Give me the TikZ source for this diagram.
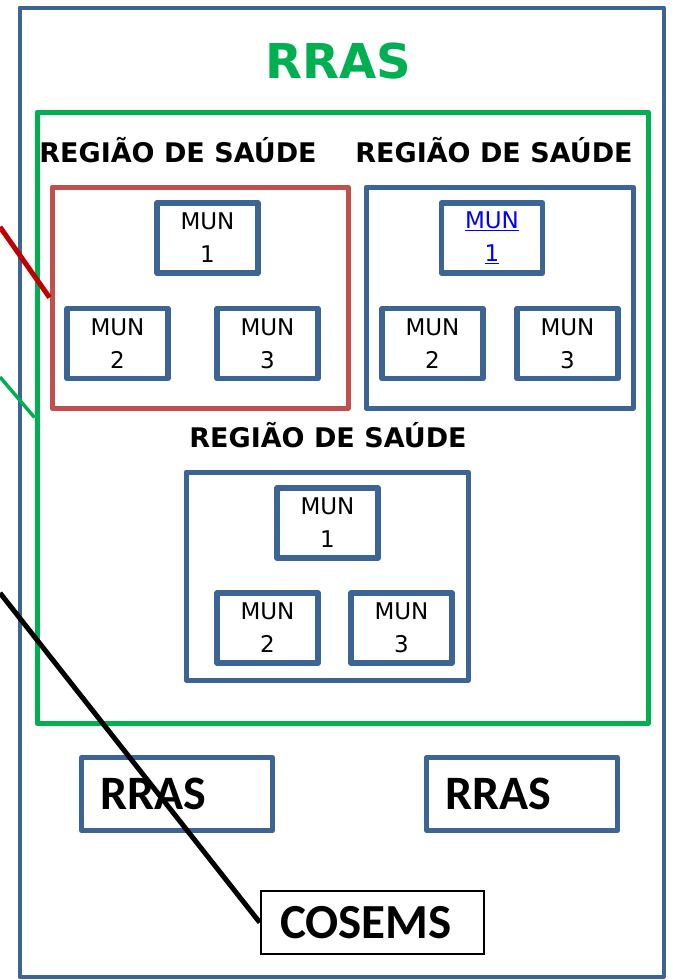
\documentclass[tikz,border=0pt]{standalone}
\usepackage{fontspec}
\setmainfont{DejaVu Sans}
\newfontfamily\calibrifont{Carlito}
\definecolor{rasblue}{HTML}{3C6494}
\definecolor{rasgreen}{HTML}{00B050}
\definecolor{regred}{HTML}{C0504D}
\definecolor{linered}{HTML}{C00000}

\tikzset{
  mun/.style={draw=rasblue, line width=5.5pt, line join=round, fill=white, minimum width=101pt,
    minimum height=70pt, inner sep=0pt, align=center,
    font=\fontsize{23}{33}\selectfont},
  munlink/.style={mun, text=blue},
  regbox/.style={draw=rasblue, line width=5pt, line join=round, inner sep=0pt},
  reglabel/.style={anchor=base, inner sep=0pt, font=\bfseries\fontsize{27}{27}\selectfont},
  rrasbox/.style={draw=rasblue, line width=5pt, line join=round, inner xsep=19pt, inner ysep=0pt,
    minimum height=73pt, text width=153pt, align=left,
    font=\calibrifont\bfseries\fontsize{48}{48}\selectfont},
}

\begin{document}
\begin{tikzpicture}[x=1pt,y=-1pt]
\useasboundingbox[fill=white] (0,0) rectangle (673,980);
% Drawing frames
\node[draw=rasblue, line width=4pt, line join=round, minimum width=644pt, minimum height=969pt, inner sep=0pt] (outer) at (341.5,492) {};
\node[draw=rasgreen, line width=5pt, line join=round, minimum width=611pt, minimum height=611pt, inner sep=0pt] (green) at (342.5,417.5) {};
\node[anchor=base, inner sep=0pt, text=rasgreen, font=\bfseries\fontsize{48}{48}\selectfont] (title) at (338,78) {RRAS};
% Region 1 (red)
\node[reglabel] (lab1) at (178,162) {REGIÃO DE SAÚDE};
\node[regbox, draw=regred, minimum width=296pt, minimum height=221pt] (reg1) at (200,297.5) {};
\node[mun] (m11) at (207.5,238) {MUN\\1};
\node[mun] (m12) at (117.5,343.5) {MUN\\2};
\node[mun] (m13) at (267.5,343.5) {MUN\\3};
% Region 2
\node[reglabel] (lab2) at (494,162) {REGIÃO DE SAÚDE};
\node[regbox, minimum width=267pt, minimum height=221pt] (reg2) at (499.5,297.5) {};
\node[munlink] (m21) at (492,238) {\underline{MUN}\\\underline{1}};
\node[mun] (m22) at (432.5,343.5) {MUN\\2};
\node[mun] (m23) at (567.5,343.5) {MUN\\3};
% Region 3
\node[reglabel] (lab3) at (328,447) {REGIÃO DE SAÚDE};
\node[regbox, minimum width=282pt, minimum height=208pt] (reg3) at (327,576) {};
\node[mun] (m31) at (327.5,523) {MUN\\1};
\node[mun] (m32) at (267.5,628) {MUN\\2};
\node[mun] (m33) at (401.5,628) {MUN\\3};
% Other RRAS and COSEMS
\node[rrasbox] (rras1) at (177,794) {RRAS};
\node[rrasbox] (rras2) at (522,794) {RRAS};
\node[draw=black, line width=2.5pt, minimum height=63pt, inner xsep=19pt, inner ysep=0pt,
  text width=185pt, align=left,
  font=\calibrifont\bfseries\fontsize{49}{49}\selectfont] (cosems) at (372.5,922.5) {COSEMS};
% Done with boxes; drawing connectors
\coordinate (inred) at (0,227);
\coordinate (ingreen) at (0,377);
\coordinate (inblack) at (0,593);
\draw[linered, line width=5pt] (inred) -- (reg1.west);
\draw[rasgreen, line width=3.5pt] (ingreen) -- (green.west);
\draw[black, line width=5pt] (inblack) -- (cosems.west);
% Done with connectors
\end{tikzpicture}
\end{document}
